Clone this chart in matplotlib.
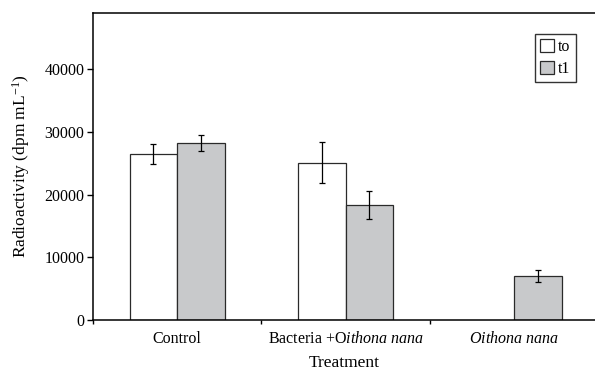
import matplotlib.pyplot as plt
import numpy as np

plt.rcParams['font.family'] = ['Liberation Serif', 'DejaVu Serif']
plt.rcParams['mathtext.fontset'] = 'custom'
plt.rcParams['mathtext.rm'] = 'Liberation Serif'
plt.rcParams['mathtext.it'] = 'Liberation Serif:italic'
plt.rcParams['mathtext.bf'] = 'Liberation Serif:bold'

# treatments and radioactivity at t0 / t1 (mean, error)
treatments = ['Control', 'Bacteria +O$\\it{ithona\\ nana}$', '$\\it{Oithona\\ nana}$']
t0_mean = [26500, 25100, 0]
t0_err = [1600, 3200, 0]
t1_mean = [28200, 18300, 7000]
t1_err = [1300, 2200, 900]

x = np.arange(len(treatments))
w = 0.282

fig = plt.figure(figsize=(5.95, 3.72), dpi=100)
ax = fig.add_axes([0.156, 0.14, 0.844, 0.826])

ax.bar(x[:2] - w / 2, t0_mean[:2], w, color='white', edgecolor='#2a2a2a', linewidth=0.9, label='to')
ax.errorbar(x[:2] - w / 2, t0_mean[:2], yerr=t0_err[:2], fmt='none', ecolor='black',
            elinewidth=0.9, capsize=2.2, capthick=0.9)
ax.bar(x + w / 2, t1_mean, w, color='#c8c9cb', edgecolor='#2a2a2a', linewidth=0.9, label='t1')
ax.errorbar(x + w / 2, t1_mean, yerr=t1_err, fmt='none', ecolor='black',
            elinewidth=0.9, capsize=2.2, capthick=0.9)

ax.set_xlim(-0.5, 2.48)
ax.set_ylim(0, 49000)
ax.set_yticks([0, 10000, 20000, 30000, 40000])
ax.set_xticks(x)
ax.set_xticklabels(treatments, fontsize=11.5)
ax.set_xticks([-0.5, 0.5, 1.5], minor=True)
ax.tick_params(axis='x', which='major', length=0, pad=8)
ax.tick_params(axis='x', which='minor', length=3, width=1, direction='out')
ax.tick_params(axis='y', length=4, width=1, direction='out', labelsize=11.5, pad=2)

for s in ['left', 'bottom', 'top']:
    ax.spines[s].set_linewidth(1.1)
ax.spines['right'].set_visible(False)

ax.set_ylabel('Radioactivity (dpm mL$^{-1}$)', fontsize=12.5, labelpad=9)
ax.set_xlabel('Treatment', fontsize=12.5, labelpad=6)

leg = ax.legend(loc='upper right', bbox_to_anchor=(0.962, 0.932), fontsize=11.5,
                handlelength=0.85, handleheight=0.85, handletextpad=0.25,
                borderpad=0.35, labelspacing=0.35, fancybox=False, borderaxespad=0)
leg.get_frame().set_edgecolor('black')
leg.get_frame().set_linewidth(1.0)

fig.savefig('out.png', dpi=100)
